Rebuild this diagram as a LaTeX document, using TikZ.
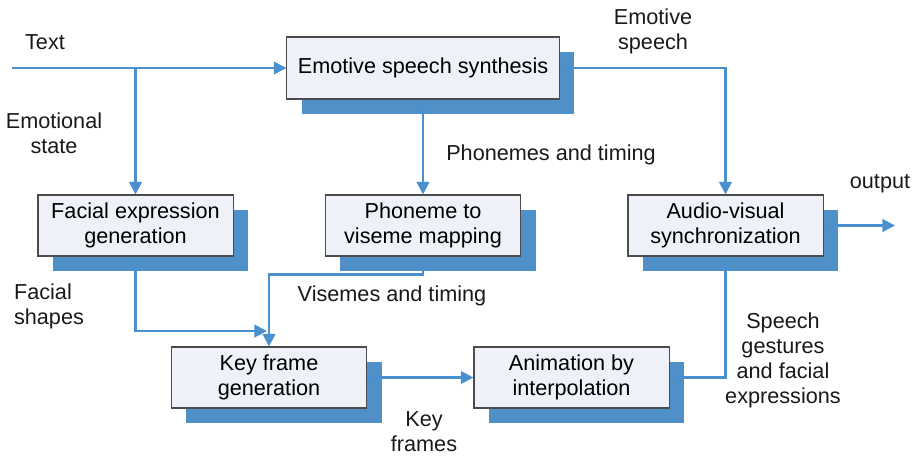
\documentclass[tikz,border=0pt]{standalone}
\usepackage{fontspec}
\setmainfont{Liberation Sans}
\usetikzlibrary{arrows.meta,shadows}

\definecolor{linkblue}{RGB}{74,144,207}
\definecolor{shadeblue}{RGB}{79,144,201}
\definecolor{boxfill}{RGB}{238,241,247}

\tikzset{
  block/.style={draw=black!70, line width=0.75pt, fill=boxfill, align=center,
    minimum width=4.875cm, minimum height=1.525cm, inner sep=0pt,
    drop shadow={shadow xshift=0.375cm, shadow yshift=-0.375cm, fill=shadeblue, opacity=1}},
  flow/.style={linkblue, line width=1.5pt, -{Triangle[length=9pt, width=9pt]}},
  link/.style={linkblue, line width=1.5pt},
  note/.style={align=center, text=black!90, inner sep=0pt}
}

\begin{document}
\begin{tikzpicture}[x=0.025cm, y=-0.025cm, font=\fontsize{15.4pt}{17.8pt}\selectfont]
  \useasboundingbox (0,0) rectangle (918,455);

  % processing blocks
  \node[block, minimum width=6.8cm, minimum height=1.55cm] (synth) at (423,68) {Emotive speech synthesis};
  \node[block] (facial) at (135.5,225.5) {Facial expression\\generation};
  \node[block] (viseme) at (423,225.5) {Phoneme to\\viseme mapping};
  \node[block] (sync) at (725.5,225.5) {Audio-visual\\synchronization};
  \node[block] (keyfr) at (269,377.5) {Key frame\\generation};
  \node[block] (interp) at (571.5,377.5) {Animation by\\interpolation};

  % free ends
  \coordinate (txtin) at (12,68);
  \coordinate (avout) at (895,225.5);
  \coordinate (shapes) at (267,331);

  % connectors
  \draw[flow] (txtin) -- (synth.west);
  \draw[flow] (facial.north |- txtin) -- (facial.north);
  \draw[flow] (synth.south) -- (viseme.north);
  \draw[flow] (synth.east) -| (sync.north);
  \draw[flow] (sync.east) -- (avout);
  \draw[flow] (facial.south) |- (shapes);
  \draw[flow] (viseme.south) -- ++(0,18) -| (keyfr.north);
  \draw[flow] (keyfr.east) -- (interp.west);
  \draw[link] (interp.east) -| (sync.south);

  % labels
  \node[note] (ltext) at (45,42) {Text};
  \node[note] (lemo) at (54,133) {Emotional\\state};
  \node[note] (lphon) at (551,155) {Phonemes and timing};
  \node[note] (lspeech) at (653,31) {Emotive\\speech};
  \node[note] (lout) at (880,184) {output};
  \node[note, align=left] (lshape) at (49,306) {Facial\\shapes};
  \node[note] (lvis) at (392,296) {Visemes and timing};
  \node[note] (lkey) at (424,432) {Key\\frames};
  \node[note] (lgest) at (783,360) {Speech\\gestures\\and facial\\expressions};
\end{tikzpicture}
\end{document}
